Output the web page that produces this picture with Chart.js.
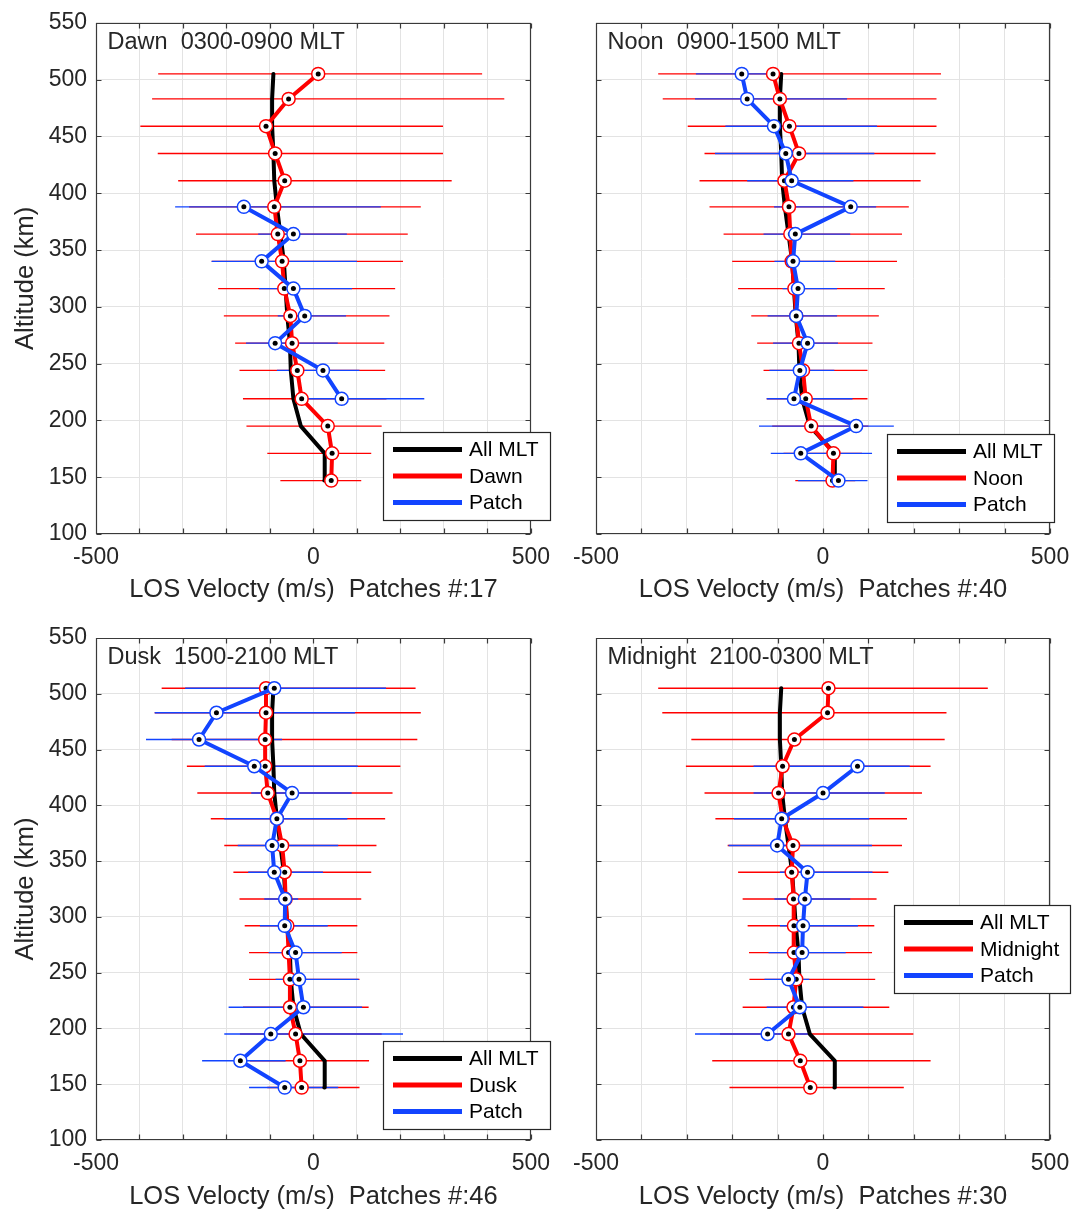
<!DOCTYPE html>
<html>
<head>
<meta charset="utf-8">
<script src="https://cdn.jsdelivr.net/npm/chart.js@4.4.1/dist/chart.umd.min.js"></script>
<style>
  html, body { margin: 0; padding: 0; background: #fff; }
  body { width: 1086px; height: 1213px; position: relative; overflow: hidden; }
  canvas { position: absolute; }
</style>
</head>
<body>
<canvas id="dawn" width="560" height="615" style="left:0px;top:0px"></canvas>
<canvas id="noon" width="526" height="615" style="left:560px;top:0px"></canvas>
<canvas id="dusk" width="560" height="598" style="left:0px;top:615px"></canvas>
<canvas id="midnight" width="526" height="598" style="left:560px;top:615px"></canvas>
<script>
// Altitude bins (km), bottom to top
const altitudes = [147, 171, 195, 219, 244, 268, 292, 316, 340, 364, 388, 411, 435, 459, 483, 505];

// Mean LOS velocity over all MLT (m/s)
const allMLT = [25, 26, -29, -46, -52, -54, -60, -64, -68, -76, -84, -90, -92, -95, -95, -92];

// Dawn sector: mean and spread limits
const dawnMean = [41, 43, 33, -27, -37, -49, -53, -67, -72, -82, -90, -66, -88, -109, -57, 11];
const dawnLow  = [-76, -106, -154, -162, -170, -180, -206, -219, -234, -270, -286, -311, -358, -398, -371, -357];
const dawnHigh = [110, 133, 157, 168, 165, 163, 175, 188, 206, 217, 247, 318, 298, 298, 439, 388];
const dawnPatchMean = [null, null, null, 65, 22, -88, -20, -46, -119, -46, -160, null, null, null, null, null];
const dawnPatchLow  = [null, null, null, -39, -84, -155, -82, -125, -234, -127, -318, null, null, null, null, null];
const dawnPatchHigh = [null, null, null, 255, 106, 56, 75, 89, 100, 77, 155, null, null, null, null, null];

// Noon sector
const noonMean = [21, 23, -26, -38, -44, -53, -59, -63, -69, -72, -75, -85, -53, -74, -95, -110];
const noonLow  = [-61, -87, -112, -124, -131, -145, -158, -187, -200, -219, -250, -272, -261, -298, -353, -363];
const noonHigh = [71, 86, 100, 98, 98, 109, 123, 136, 163, 174, 189, 215, 248, 250, 250, 260];
const noonPatchMean = [34, -49, 73, -64, -51, -34, -59, -55, -66, -61, 61, -69, -82, -108, -167, -179];
const noonPatchLow  = [-55, -115, -141, -124, -118, -110, -122, -89, -107, -131, -108, -167, -238, -215, -282, -280];
const noonPatchHigh = [98, 108, 156, 65, 25, 33, 31, 31, 27, 60, 117, 67, 113, 119, 53, -115];

// Dusk sector
const duskMean = [-27, -31, -41, -54, -54, -57, -60, -64, -66, -72, -84, -105, -111, -111, -109, -109];
const duskLow  = [-106, -146, -169, -162, -148, -148, -158, -170, -184, -205, -236, -267, -291, -326, -365, -349];
const duskHigh = [106, 128, 157, 127, 106, 101, 101, 110, 133, 145, 165, 182, 200, 239, 247, 235];
const duskPatchMean = [-66, -168, -98, -23, -33, -41, -66, -65, -90, -95, -84, -49, -136, -263, -223, -90];
const duskPatchLow  = [-148, -256, -205, -195, -87, -103, -123, -113, -150, -174, -205, -143, -250, -385, -365, -295];
const duskPatchHigh = [57, -64, 206, 112, 104, 65, 33, -35, 22, 57, 78, 88, 102, -72, 96, 167];

// Midnight sector
const midnightMean = [-28, -50, -76, -65, -59, -64, -64, -65, -69, -66, -89, -98, -89, -63, 10, 12];
const midnightLow  = [-206, -244, -227, -177, -162, -163, -166, -177, -187, -210, -237, -261, -302, -290, -354, -363];
const midnightHigh = [178, 237, 199, 146, 115, 108, 113, 118, 144, 174, 185, 218, 237, 268, 272, 363];
const midnightPatchMean = [null, null, -122, -51, -76, -46, -44, -40, -34, -101, -91, 0, 76, null, null, null];
const midnightPatchLow  = [null, null, -282, -124, -129, -120, -95, -107, -95, -208, -196, -153, -153, null, null, null];
const midnightPatchHigh = [null, null, -28, 89, -30, 50, 77, 60, 109, 108, 102, 136, 191, null, null, null];

// Axis ticks
const xTicks = [-500, 0, 500];
const yTickStep = 50;

const FONT = '"Liberation Sans", Arial, Helvetica, sans-serif';
const INK = '#262626';
const RED = '#ff0000';
const BLUE = '#1244ff';
Chart.defaults.font.family = FONT;

function pts(vals) {
  return altitudes.map((a, i) => (vals[i] == null ? null : { x: vals[i], y: a })).filter(p => p);
}

function panelPlugin(p) {
  return {
    id: 'panel_' + p.id,
    beforeDatasetsDraw(chart) {
      const { ctx, scales: { x, y } } = chart;
      ctx.save();
      ctx.lineWidth = 1.4;
      const bars = [
        { color: RED, low: p.low, high: p.high },
        { color: BLUE, low: p.patchLow, high: p.patchHigh }
      ];
      for (const s of bars) {
        ctx.strokeStyle = s.color;
        ctx.beginPath();
        altitudes.forEach((a, i) => {
          if (s.low[i] == null) return;
          const py = y.getPixelForValue(a);
          ctx.moveTo(x.getPixelForValue(s.low[i]), py);
          ctx.lineTo(x.getPixelForValue(s.high[i]), py);
        });
        ctx.stroke();
      }
      ctx.restore();
    },
    afterDraw(chart) {
      const { ctx, chartArea: a, scales: { x, y } } = chart;
      ctx.save();
      // axes box with inward tick marks on all four sides
      const L = Math.round(a.left) + 0.5, R = Math.round(a.right) - 0.5;
      const T = Math.round(a.top) + 0.5, B = Math.round(a.bottom) - 0.5;
      ctx.strokeStyle = '#3a3a3a';
      ctx.lineWidth = 1.2;
      ctx.beginPath();
      ctx.rect(L, T, R - L, B - T);
      const tl = 5;
      for (let v = -500; v <= 500; v += 100) {
        const px = Math.round(x.getPixelForValue(v)) + 0.5;
        ctx.moveTo(px, B); ctx.lineTo(px, B - tl);
        ctx.moveTo(px, T); ctx.lineTo(px, T + tl);
      }
      for (let v = 100; v <= 550; v += yTickStep) {
        const py = Math.round(y.getPixelForValue(v)) + 0.5;
        ctx.moveTo(L, py); ctx.lineTo(L + tl, py);
        ctx.moveTo(R, py); ctx.lineTo(R - tl, py);
      }
      ctx.stroke();

      // sector label
      ctx.fillStyle = INK;
      ctx.font = '23.5px ' + FONT;
      ctx.textBaseline = 'middle';
      ctx.textAlign = 'left';
      ctx.fillText(p.label, a.left + 11.5, a.top + 20);

      // legend
      const entries = [
        { text: 'All MLT', color: '#000' },
        { text: p.name, color: RED },
        { text: 'Patch', color: BLUE }
      ];
      ctx.font = '21px ' + FONT;
      const tw = Math.max(...entries.map(e => ctx.measureText(e.text).width));
      const lg = p.legend;
      const w = Math.round(86 + tw + 11);
      ctx.fillStyle = '#fff';
      ctx.fillRect(lg.x + 0.5, lg.y + 0.5, w, 88);
      ctx.strokeStyle = INK;
      ctx.lineWidth = 1.2;
      ctx.strokeRect(lg.x + 0.5, lg.y + 0.5, w, 88);
      const rows = [17.5, 44, 70.5];
      entries.forEach((e, i) => {
        const cy = lg.y + rows[i];
        ctx.strokeStyle = e.color;
        ctx.lineWidth = 5;
        ctx.beginPath();
        ctx.moveTo(lg.x + 10, cy);
        ctx.lineTo(lg.x + 79, cy);
        ctx.stroke();
        ctx.fillStyle = '#000';
        ctx.fillText(e.text, lg.x + 86, cy + 1);
      });
      ctx.restore();
    }
  };
}

function buildPanel(p) {
  const lineStyle = (color) => ({
    showLine: true, borderColor: color, borderWidth: 4,
    borderJoinStyle: 'round', borderCapStyle: 'round', tension: 0
  });
  const marker = (color) => ({
    pointRadius: 6.5, pointBorderWidth: 1.5, pointBorderColor: color,
    pointBackgroundColor: '#fff', pointHoverRadius: 6.5
  });
  const dots = { showLine: false, pointRadius: 2.5, pointBorderWidth: 0, pointBackgroundColor: '#000', pointHoverRadius: 2.5 };

  const datasets = [
    Object.assign({ label: 'All MLT', data: pts(allMLT), pointRadius: 0, order: 5 }, lineStyle('#000')),
    Object.assign({ label: p.name, data: pts(p.mean), order: 4 }, lineStyle(RED), marker(RED)),
    Object.assign({ label: p.name + ' centre', data: pts(p.mean), order: 3 }, dots),
    Object.assign({ label: 'Patch', data: pts(p.patchMean), order: 2 }, lineStyle(BLUE), marker(BLUE)),
    Object.assign({ label: 'Patch centre', data: pts(p.patchMean), order: 1 }, dots)
  ];

  new Chart(document.getElementById(p.id), {
    type: 'scatter',
    data: { datasets },
    plugins: [panelPlugin(p)],
    options: {
      responsive: false,
      animation: false,
      devicePixelRatio: 1,
      events: [],
      layout: { padding: { left: 0, top: p.top, right: p.right, bottom: 0 } },
      plugins: { legend: { display: false }, tooltip: { enabled: false } },
      scales: {
        x: {
          type: 'linear', min: -500, max: 500,
          afterFit: (s) => { s.height = p.xHeight; },
          ticks: {
            stepSize: 100, autoSkip: false, maxRotation: 0, padding: 10,
            color: INK, font: { size: 23 },
            callback: (v) => (xTicks.includes(v) ? String(v) : '')
          },
          grid: { color: '#e3e3e3', lineWidth: 1, drawTicks: false },
          border: { display: false },
          title: {
            display: true, text: p.xTitle, color: INK,
            font: { size: 25.5, lineHeight: 1.2 },
            padding: { top: 0, bottom: p.xTitlePad }
          }
        },
        y: {
          type: 'linear', min: 100, max: 550,
          afterFit: (s) => { s.width = p.yWidth; },
          ticks: {
            stepSize: yTickStep, autoSkip: false, padding: 9,
            color: INK, font: { size: 23 },
            callback: (v) => (p.yLabels ? String(v) : '')
          },
          grid: { color: '#e3e3e3', lineWidth: 1, drawTicks: false },
          border: { display: false },
          title: {
            display: p.yLabels, text: 'Altitude (km)', color: INK,
            font: { size: 25.5, lineHeight: 1.2 },
            padding: { top: 11, bottom: 0 }
          }
        }
      }
    }
  });
}

buildPanel({
  id: 'dawn', name: 'Dawn', label: 'Dawn  0300-0900 MLT', xTitle: 'LOS Velocty (m/s)  Patches #:17',
  mean: dawnMean, low: dawnLow, high: dawnHigh,
  patchMean: dawnPatchMean, patchLow: dawnPatchLow, patchHigh: dawnPatchHigh,
  top: 18, right: 27, yWidth: 96, xHeight: 81, xTitlePad: 9.7, yLabels: true,
  legend: { x: 383, y: 432 }
});
buildPanel({
  id: 'noon', name: 'Noon', label: 'Noon  0900-1500 MLT', xTitle: 'LOS Velocty (m/s)  Patches #:40',
  mean: noonMean, low: noonLow, high: noonHigh,
  patchMean: noonPatchMean, patchLow: noonPatchLow, patchHigh: noonPatchHigh,
  top: 18, right: 36, yWidth: 36, xHeight: 81, xTitlePad: 9.7, yLabels: false,
  legend: { x: 327, y: 434 }
});
buildPanel({
  id: 'dusk', name: 'Dusk', label: 'Dusk  1500-2100 MLT', xTitle: 'LOS Velocty (m/s)  Patches #:46',
  mean: duskMean, low: duskLow, high: duskHigh,
  patchMean: duskPatchMean, patchLow: duskPatchLow, patchHigh: duskPatchHigh,
  top: 23, right: 27, yWidth: 96, xHeight: 73, xTitlePad: 1.0, yLabels: true,
  legend: { x: 383, y: 426 }
});
buildPanel({
  id: 'midnight', name: 'Midnight', label: 'Midnight  2100-0300 MLT', xTitle: 'LOS Velocty (m/s)  Patches #:30',
  mean: midnightMean, low: midnightLow, high: midnightHigh,
  patchMean: midnightPatchMean, patchLow: midnightPatchLow, patchHigh: midnightPatchHigh,
  top: 23, right: 36, yWidth: 36, xHeight: 73, xTitlePad: 1.0, yLabels: false,
  legend: { x: 334, y: 290 }
});
</script>
</body>
</html>
